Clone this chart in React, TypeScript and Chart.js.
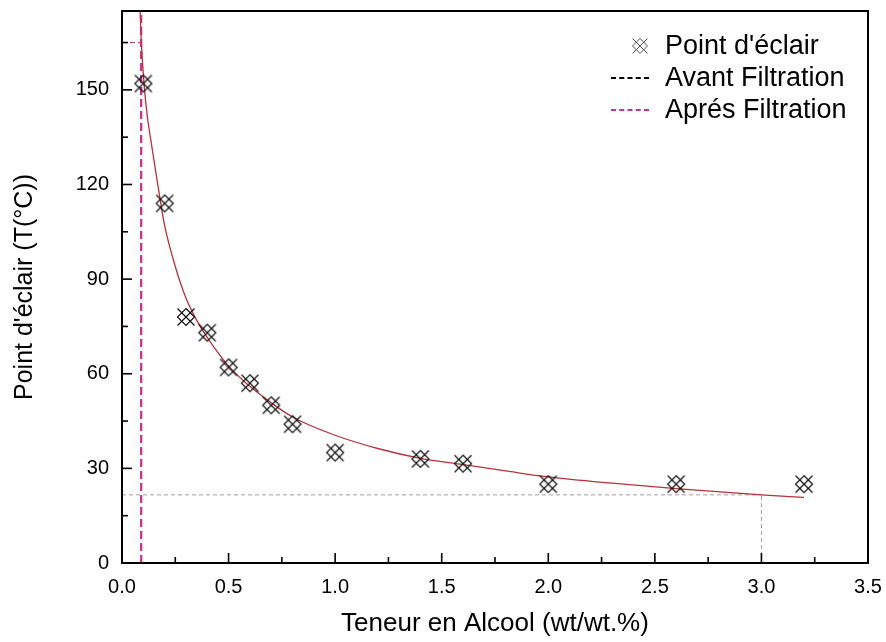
import React, { useEffect, useRef } from 'react';
import { Chart, registerables } from 'chart.js';

Chart.register(...registerables);

// ---- data ----
const alcoholContent = [0.1, 0.2, 0.3, 0.4, 0.5, 0.6, 0.7, 0.8, 1.0, 1.4, 1.6, 2.0, 2.6, 3.2];
const flashPoint = [152, 114, 78, 73, 62, 57, 50, 44, 35, 33, 31.5, 25, 25, 25];

// fitted curve
const fitX = [0.085, 0.09, 0.1, 0.11, 0.12, 0.14, 0.17, 0.2, 0.25, 0.3, 0.35, 0.4, 0.5, 0.6, 0.7, 0.8, 1.0, 1.2, 1.4, 1.6, 1.8, 2.0, 2.3, 2.6, 3.0, 3.2];
const fitY = [175, 166, 155, 147, 141, 132, 119, 107, 94, 84, 77, 71.5, 62.4, 56, 50.8, 46.3, 40.5, 36.3, 33.2, 31.2, 29.2, 27.3, 25.3, 23.6, 21.6, 20.8];

// filtration markers
const avantX = [0.09, 0.09];
const avantY = [0, 175];
const apresX = [0.09, 0.09];
const apresY = [0, 175];
const apresHX = [0, 0.09];
const apresHY = [165, 165];

// reference (grey) dashed lines
const refHX = [0, 3.0];
const refHY = [21.6, 21.6];
const refVX = [3.0, 3.0];
const refVY = [0, 21.6];

// ticks
const xTickValues = [0, 0.5, 1.0, 1.5, 2.0, 2.5, 3.0, 3.5];
const xTickLabels = ['0.0', '0.5', '1.0', '1.5', '2.0', '2.5', '3.0', '3.5'];
const xMinorTicks = [0.25, 0.75, 1.25, 1.75, 2.25, 2.75, 3.25];
const yTickValues = [0, 30, 60, 90, 120, 150];
const yTickLabels = ['0', '30', '60', '90', '120', '150'];
const yMinorTicks = [15, 45, 75, 105, 135, 165];

const FONT = '"Liberation Sans", Arial, Helvetica, sans-serif';

const pts = (xs: number[], ys: number[]) => xs.map((x, i) => ({ x, y: ys[i] }));

// X (corner to corner) combined with a diamond
function makeMarker(size: number, color: string, lw: number, dFrac: number): HTMLCanvasElement {
  const c = document.createElement('canvas');
  c.width = size;
  c.height = size;
  const g = c.getContext('2d')!;
  const cx = size / 2;
  const cy = size / 2;
  const r = size / 2 - 1.5;
  const d = r * dFrac;
  g.strokeStyle = color;
  g.lineWidth = lw;
  g.beginPath();
  g.moveTo(cx - r, cy - r);
  g.lineTo(cx + r, cy + r);
  g.moveTo(cx + r, cy - r);
  g.lineTo(cx - r, cy + r);
  g.stroke();
  g.beginPath();
  g.moveTo(cx, cy - d);
  g.lineTo(cx + d, cy);
  g.lineTo(cx, cy + d);
  g.lineTo(cx - d, cy);
  g.closePath();
  g.stroke();
  return c;
}

export default function App() {
  const ref = useRef<HTMLCanvasElement | null>(null);

  useEffect(() => {
    if (!ref.current) return;
    const marker = makeMarker(20, '#111', 1.2, 1.0);
    const legendMarker = makeMarker(18, '#555', 1.0, 1.0);

    const legendEntries = [
      { label: "Point d'éclair", kind: 'marker' as const, color: '#2a2a2a' },
      { label: 'Avant Filtration', kind: 'dash' as const, color: '#000000' },
      { label: 'Aprés Filtration', kind: 'dash' as const, color: '#cc2f8e' },
    ];

    const framePlugin = {
      id: 'frameTicks',
      afterDatasetsDraw(chart: any) {
        const { ctx, chartArea: a, scales } = chart;
        const x = scales.x;
        const y = scales.y;
        ctx.save();
        ctx.strokeStyle = '#000';
        ctx.lineWidth = 1.6;
        const line = (x1: number, y1: number, x2: number, y2: number) => {
          ctx.beginPath();
          ctx.moveTo(x1, y1);
          ctx.lineTo(x2, y2);
          ctx.stroke();
        };
        xTickValues.forEach((v) => {
          const p = x.getPixelForValue(v);
          line(p, a.bottom, p, a.bottom - 10);
        });
        xMinorTicks.forEach((v) => {
          const p = x.getPixelForValue(v);
          line(p, a.bottom, p, a.bottom - 6);
        });
        yTickValues.forEach((v) => {
          const p = y.getPixelForValue(v);
          line(a.left, p, a.left + 10, p);
        });
        yMinorTicks.forEach((v) => {
          const p = y.getPixelForValue(v);
          line(a.left, p, a.left + 6, p);
        });
        ctx.lineWidth = 2;
        ctx.strokeRect(a.left, a.top, a.right - a.left, a.bottom - a.top);
        ctx.restore();
      },
      afterDraw(chart: any) {
        const { ctx } = chart;
        ctx.save();
        const rows = [46, 78, 110];
        const dashLeft = 611;
        const dashRight = 649;
        const textX = 665;
        ctx.font = `27px ${FONT}`;
        ctx.textBaseline = 'middle';
        ctx.textAlign = 'left';
        legendEntries.forEach((e, i) => {
          const yy = rows[i];
          if (e.kind === 'marker') {
            ctx.drawImage(legendMarker, 640 - legendMarker.width / 2, yy - legendMarker.height / 2);
          } else {
            ctx.strokeStyle = e.color;
            ctx.lineWidth = 2;
            ctx.setLineDash([5, 3.25]);
            ctx.beginPath();
            ctx.moveTo(dashLeft, yy);
            ctx.lineTo(dashRight, yy);
            ctx.stroke();
            ctx.setLineDash([]);
          }
          ctx.fillStyle = '#000';
          ctx.fillText(e.label, textX, yy + 1);
        });
        ctx.restore();
      },
    };

    // Chart.js draws lower-index datasets on top
    const chart = new Chart(ref.current, {
      type: 'scatter',
      data: {
        datasets: [
          {
            label: "Point d'éclair",
            data: pts(alcoholContent, flashPoint),
            pointStyle: marker as any,
            pointRadius: 10,
            showLine: false,
          },
          {
            label: 'fit',
            data: pts(fitX, fitY),
            showLine: true,
            borderColor: '#b8323a',
            borderWidth: 1.3,
            cubicInterpolationMode: 'monotone',
            pointRadius: 0,
          },
          {
            label: 'Aprés Filtration',
            data: pts(apresX, apresY),
            showLine: true,
            borderColor: '#cc2f8e',
            borderWidth: 2.2,
            borderDash: [8, 4],
            pointRadius: 0,
          },
          {
            label: 'apres-h',
            data: pts(apresHX, apresHY),
            showLine: true,
            borderColor: '#cc2f8e',
            borderWidth: 1,
            borderDash: [5, 3],
            pointRadius: 0,
          },
          {
            label: 'Avant Filtration',
            data: pts(avantX, avantY),
            showLine: true,
            borderColor: '#000000',
            borderWidth: 0.8,
            borderDash: [8, 4],
            pointRadius: 0,
          },
          {
            label: 'ref-h',
            data: pts(refHX, refHY),
            showLine: true,
            borderColor: '#a0a0a0',
            borderWidth: 1,
            borderDash: [4, 3],
            pointRadius: 0,
          },
          {
            label: 'ref-v',
            data: pts(refVX, refVY),
            showLine: true,
            borderColor: '#a0a0a0',
            borderWidth: 1,
            borderDash: [4, 3],
            pointRadius: 0,
          },
        ],
      },
      options: {
        animation: false,
        responsive: false,
        devicePixelRatio: 1,
        layout: { padding: { top: 8, right: 18, left: 0, bottom: 0 } },
        plugins: {
          legend: { display: false },
          tooltip: { enabled: false },
        },
        scales: {
          x: {
            type: 'linear',
            min: 0,
            max: 3.5,
            afterFit: (s: any) => {
              s.height = 79;
              s.paddingLeft = 0;
              s.paddingRight = 0;
            },
            afterBuildTicks: (s: any) => {
              s.ticks = xTickValues.map((v) => ({ value: v }));
            },
            grid: { display: false, drawTicks: false },
            border: { display: false },
            ticks: {
              autoSkip: false,
              maxRotation: 0,
              padding: 12,
              color: '#000',
              font: { family: FONT, size: 20 },
              callback: (_v: any, i: number) => xTickLabels[i],
            },
            title: {
              display: true,
              text: 'Teneur en Alcool (wt/wt.%)',
              color: '#000',
              font: { family: FONT, size: 26, lineHeight: 1.2 },
              padding: { top: 0, bottom: 3 },
            },
          },
          y: {
            type: 'linear',
            min: 0,
            max: 175,
            afterFit: (s: any) => {
              s.width = 122;
              s.paddingTop = 0;
              s.paddingBottom = 0;
            },
            afterBuildTicks: (s: any) => {
              s.ticks = yTickValues.map((v) => ({ value: v }));
            },
            grid: { display: false, drawTicks: false },
            border: { display: false },
            ticks: {
              autoSkip: false,
              padding: 13,
              color: '#000',
              font: { family: FONT, size: 20 },
              callback: (_v: any, i: number) => yTickLabels[i],
            },
            title: {
              display: true,
              text: "Point d'éclair (T(°C))",
              color: '#000',
              font: { family: FONT, size: 25, lineHeight: 1.2 },
              padding: { top: 10, bottom: 0 },
            },
          },
        },
      },
      plugins: [framePlugin],
    } as any);

    return () => chart.destroy();
  }, []);

  return (
    <div style={{ position: 'fixed', left: 0, top: 0, width: 886, height: 642, background: '#fff' }}>
      <canvas ref={ref} width={886} height={642} style={{ display: 'block' }} />
    </div>
  );
}
